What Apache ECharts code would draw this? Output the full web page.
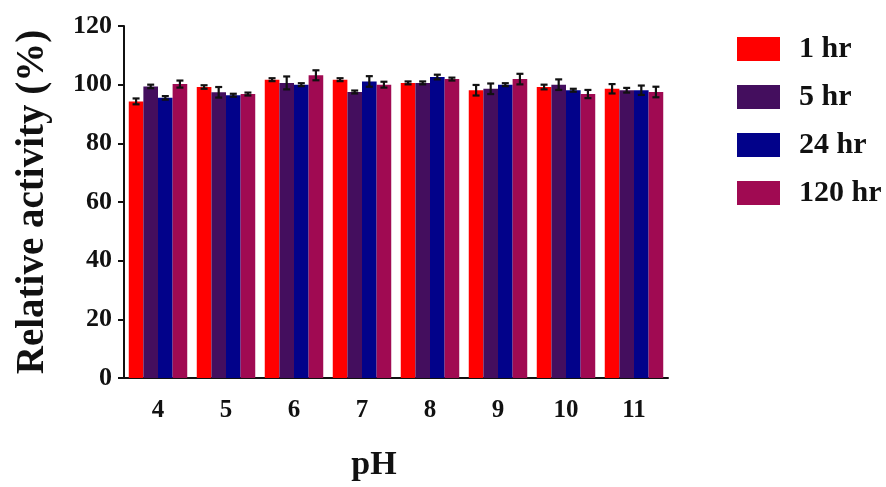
<!DOCTYPE html>
<html>
<head>
<meta charset="utf-8">
<script src="https://cdn.jsdelivr.net/npm/echarts@6/dist/echarts.min.js"></script>
<style>
  html, body { margin: 0; padding: 0; background: #fff; }
  #chart { width: 886px; height: 487px; }
</style>
</head>
<body>
<div id="chart"></div>
<script>
// pH values on the category axis
const categories = ['4', '5', '6', '7', '8', '9', '10', '11'];
const seriesNames = ['1 hr', '5 hr', '24 hr', '120 hr'];

// Relative activity (%) after incubation for each time
const act1h   = [94.3, 99.2, 101.7, 101.7, 100.6, 98.1, 99.2, 98.6];
const act5h   = [99.4, 97.4, 100.6, 97.5, 100.6, 98.6, 100.0, 98.1];
const act24h  = [95.5, 96.4, 100.0, 101.1, 102.6, 100.0, 98.1, 98.1];
const act120h = [100.2, 96.8, 103.2, 100.0, 101.9, 101.9, 96.8, 97.5];

// Standard deviations
const sd1h   = [1.0, 0.6, 0.5, 0.5, 0.5, 1.8, 0.8, 1.6];
const sd5h   = [0.6, 1.8, 2.2, 0.5, 0.5, 1.8, 1.8, 0.8];
const sd24h  = [0.6, 0.5, 0.5, 1.8, 0.8, 0.5, 0.5, 1.6];
const sd120h = [1.2, 0.5, 1.7, 1.0, 0.5, 1.8, 1.4, 1.8];

const yTicks = [0, 20, 40, 60, 80, 100, 120];

const colors = ['#ff0000', '#440e5e', '#02028a', '#a00a52'];
const values = [act1h, act5h, act24h, act120h];
const errors = [sd1h, sd5h, sd24h, sd120h];
const catGap = 0.14;
const font = '"Liberation Serif", "Times New Roman", serif';

const series = [];
values.forEach((vals, i) => {
  series.push({
    name: seriesNames[i],
    type: 'bar',
    data: vals,
    barGap: 0,
    barCategoryGap: (catGap * 100) + '%',
    itemStyle: { color: colors[i] },
    z: 2
  });
});
// error bars with caps, drawn over each bar
values.forEach((vals, i) => {
  series.push({
    type: 'custom',
    name: seriesNames[i] + ' sd',
    data: vals.map((v, k) => [k, v, errors[i][k]]),
    z: 5,
    renderItem: function (params, api) {
      const k = api.value(0);
      const v = api.value(1);
      const e = api.value(2);
      const band = api.size([1, 0])[0];
      const group = band * (1 - catGap);
      const bw = group / 4;
      const c = api.coord([k, v]);
      const x = c[0] - group / 2 + bw * (i + 0.5);
      const yTop = api.coord([k, v + e])[1];
      const yBot = api.coord([k, v - e])[1];
      const cap = 3.5;
      const st = { stroke: '#111', lineWidth: 2.2 };
      return {
        type: 'group',
        children: [
          { type: 'line', shape: { x1: x, y1: yTop, x2: x, y2: yBot }, style: st },
          { type: 'line', shape: { x1: x - cap, y1: yTop, x2: x + cap, y2: yTop }, style: st },
          { type: 'line', shape: { x1: x - cap, y1: yBot, x2: x + cap, y2: yBot }, style: st }
        ]
      };
    }
  });
});

const chart = echarts.init(document.getElementById('chart'));
chart.setOption({
  animation: false,
  backgroundColor: '#fff',
  grid: { left: 124, right: 218, top: 26, bottom: 106 },
  legend: {
    data: seriesNames,
    orient: 'vertical',
    left: 737,
    top: 34,
    padding: 0,
    itemWidth: 43,
    itemHeight: 24,
    itemGap: 18,
    icon: 'rect',
    textStyle: { fontFamily: font, fontWeight: 'bold', fontSize: 30, lineHeight: 24, color: '#111', padding: [0, 0, 0, 14] }
  },
  xAxis: {
    type: 'category',
    data: categories,
    name: 'pH',
    nameLocation: 'middle',
    nameGap: 70,
    nameTextStyle: { fontFamily: font, fontWeight: 'bold', fontSize: 34, color: '#111', padding: [0, 44, 0, 0] },
    axisLine: { lineStyle: { color: '#111', width: 2 } },
    axisTick: { alignWithLabel: true, length: 6, lineStyle: { color: '#111', width: 2 } },
    axisLabel: { fontFamily: font, fontWeight: 'bold', fontSize: 25, color: '#111', margin: 20 }
  },
  yAxis: {
    type: 'value',
    min: yTicks[0],
    max: yTicks[yTicks.length - 1],
    interval: 20,
    name: 'Relative activity (%)',
    nameLocation: 'middle',
    nameGap: 72,
    nameTextStyle: { fontFamily: font, fontWeight: 'bold', fontSize: 39, color: '#111' },
    axisLine: { show: true, lineStyle: { color: '#111', width: 2 } },
    axisTick: { show: true, length: 6, lineStyle: { color: '#111', width: 2 } },
    axisLabel: { fontFamily: font, fontWeight: 'bold', fontSize: 26, color: '#111', margin: 12 },
    splitLine: { show: false }
  },
  series: series
});
</script>
</body>
</html>
